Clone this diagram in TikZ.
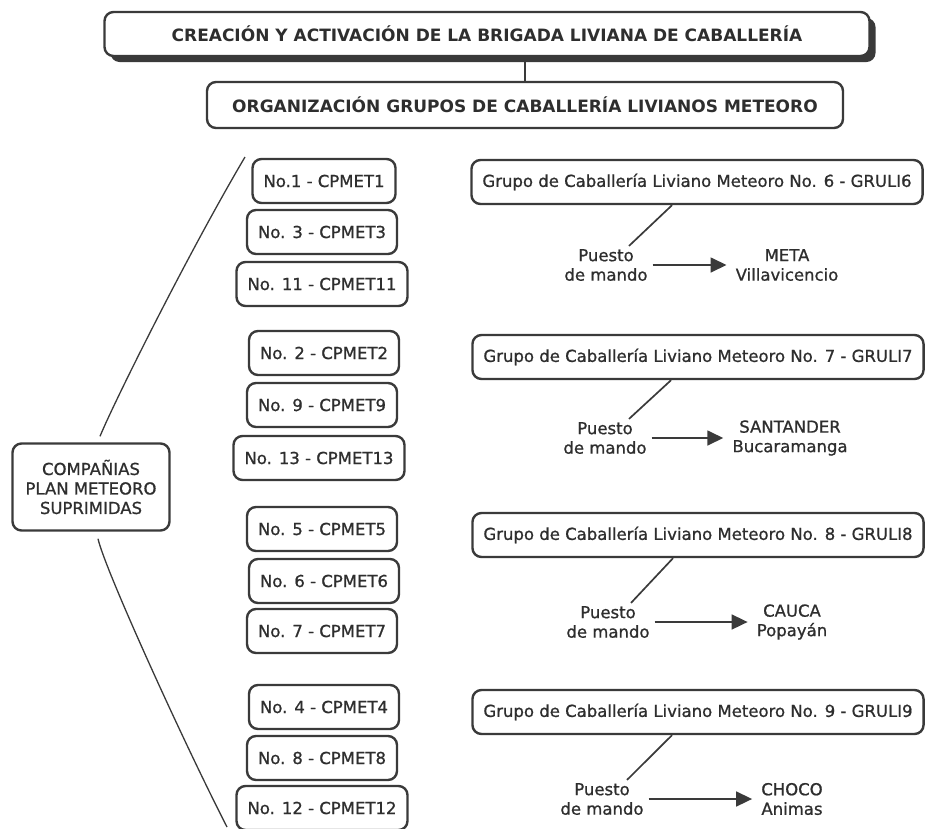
\documentclass[tikz,border=0pt]{standalone}
\usepackage{fontspec}
\setmainfont{DejaVu Sans}
\newfontfamily\heavy[FakeBold=0.9]{DejaVu Sans}
\usetikzlibrary{arrows.meta, shadows}
\definecolor{boxgray}{HTML}{3A3A3A}
\definecolor{txtgray}{HTML}{2E2E2E}

\begin{document}
\begin{tikzpicture}[x=1pt, y=-1pt,
    box/.style={draw=boxgray, line width=2.4pt, rounded corners=9pt, fill=white, text=txtgray,
        minimum height=44pt, inner xsep=11pt, font=\heavy\fontsize{16.5}{19.5}\selectfont},
    titlebox/.style={box, font=\fontsize{17}{20}\selectfont\bfseries},
    plain/.style={text=txtgray, align=center, inner sep=3pt, font=\heavy\fontsize{16.5}{19.5}\selectfont},
    link/.style={draw=boxgray, line width=1.7pt},
    arrow/.style={link, -{Triangle[length=16pt, width=15pt]}, shorten <=2pt, shorten >=6pt}]
        \useasboundingbox (0,0) rectangle (926,828);

        \node[titlebox, minimum width=765pt, drop shadow={shadow xshift=6pt, shadow yshift=-6pt, fill=boxgray, opacity=1}] (creacion) at (487,34) {CREACIÓN Y ACTIVACIÓN DE LA BRIGADA LIVIANA DE CABALLERÍA};
        \node[titlebox, minimum width=636pt, minimum height=46pt] (organiz) at (525,105) {ORGANIZACIÓN GRUPOS DE CABALLERÍA LIVIANOS METEORO};
        \draw[link] (organiz.north |- creacion.south) -- (organiz.north);

        \node[box, align=center, minimum width=157pt, minimum height=87pt] (compan) at (91,487) {COMPAÑIAS\\PLAN METEORO\\SUPRIMIDAS};

        \node[box] (cp1) at (324,181) {No.1 - CPMET1};
        \node[box] (cp3) at (322,232) {No. 3 - CPMET3};
        \node[box] (cp11) at (322,284) {No. 11 - CPMET11};
        \node[box] (cp2) at (324,353) {No. 2 - CPMET2};
        \node[box] (cp9) at (322,405) {No. 9 - CPMET9};
        \node[box] (cp13) at (319,458) {No. 13 - CPMET13};
        \node[box] (cp5) at (322,529) {No. 5 - CPMET5};
        \node[box] (cp6) at (324,581) {No. 6 - CPMET6};
        \node[box] (cp7) at (322,631) {No. 7 - CPMET7};
        \node[box] (cp4) at (324,707) {No. 4 - CPMET4};
        \node[box] (cp8) at (322,758) {No. 8 - CPMET8};
        \node[box] (cp12) at (322,808) {No. 12 - CPMET12};

        \coordinate (toparc) at (245,157);
        \coordinate (botarc) at (227,827);
        \draw[link, line width=1.3pt] ([xshift=9pt, yshift=6pt]compan.north) .. controls (115,400) and (190,250) .. (toparc);
        \draw[link, line width=1.3pt] ([xshift=7pt, yshift=-7pt]compan.south) .. controls (105,570) and (185,745) .. (botarc);

        \node[box] (g6) at (697,182) {Grupo de Caballería Liviano Meteoro No. 6 - GRULI6};
        \node[plain] (p6) at (606,265) {Puesto\\de mando};
        \node[plain] (d6) at (787,265) {META\\Villavicencio};
        \draw[link] ([xshift=-25pt]g6.south) -- ([xshift=23pt]p6.north);
        \draw[arrow] (p6) -- (d6);

        \node[box] (g7) at (698,357) {Grupo de Caballería Liviano Meteoro No. 7 - GRULI7};
        \node[plain] (p7) at (605,438) {Puesto\\de mando};
        \node[plain] (d7) at (790,438) {SANTANDER\\Bucaramanga};
        \draw[link] ([xshift=-27pt]g7.south) -- ([xshift=24pt]p7.north);
        \draw[arrow] (p7) -- (d7);

        \node[box] (g8) at (698,535) {Grupo de Caballería Liviano Meteoro No. 8 - GRULI8};
        \node[plain] (p8) at (608,622) {Puesto\\de mando};
        \node[plain] (d8) at (792,622) {CAUCA\\Popayán};
        \draw[link] ([xshift=-25pt]g8.south) -- ([xshift=23pt]p8.north);
        \draw[arrow] (p8) -- (d8);

        \node[box] (g9) at (698,712) {Grupo de Caballería Liviano Meteoro No. 9 - GRULI9};
        \node[plain] (p9) at (602,799) {Puesto\\de mando};
        \node[plain] (d9) at (792,799) {CHOCO\\Animas};
        \draw[link] ([xshift=-26pt]g9.south) -- ([xshift=25pt]p9.north);
        \draw[arrow] (p9) -- (d9);

    \end{tikzpicture}
\end{document}
